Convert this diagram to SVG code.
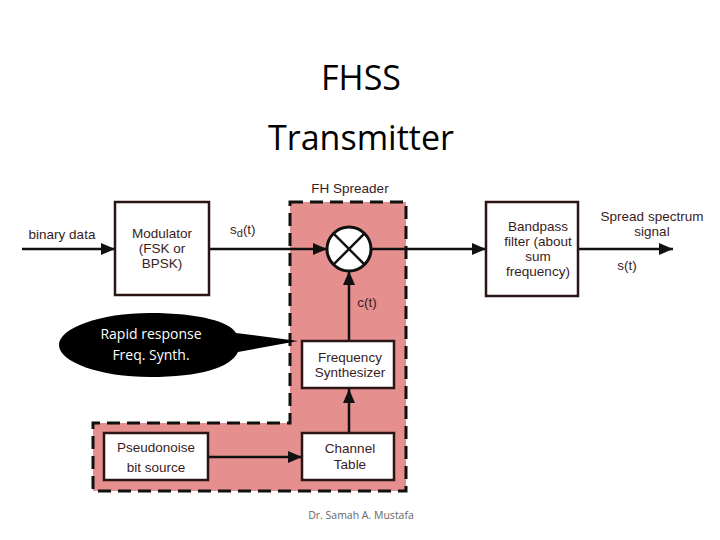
<svg xmlns="http://www.w3.org/2000/svg" width="720" height="540" viewBox="0 0 720 540">
<style>
.box{fill:#fff;stroke:#2a1414;stroke-width:2.5}
.t{font-family:"Liberation Sans",Arial,sans-serif;font-size:13.5px;fill:#3a1c1c;text-anchor:middle}
.ln{stroke:#111;stroke-width:2.5;fill:none}
.title{font-family:"Open Sans","Liberation Sans",sans-serif;font-size:34px;fill:#000;text-anchor:middle}
</style>
<defs>
<marker id="ah" markerWidth="14" markerHeight="12" refX="14" refY="6" orient="auto" markerUnits="userSpaceOnUse">
<path d="M0,0 L14,6 L0,12 Z" fill="#111"/>
</marker>
</defs>
<rect width="720" height="540" fill="#fff"/>
<text class="title" x="361" y="90">FHSS</text>
<text class="title" x="361" y="150">Transmitter</text>

<g id="fh-spreader">
<path d="M290,202 H406 V491 H93 V423 H290 Z" fill="#e58f8e" stroke="#111" stroke-width="3" stroke-dasharray="13,7"/>
<text class="t" x="350" y="193">FH Spreader</text>
</g>

<g id="connectors">
<line class="ln" x1="22" y1="249" x2="115" y2="249" marker-end="url(#ah)"/>
<line class="ln" x1="209" y1="249" x2="327" y2="249" marker-end="url(#ah)"/>
<line class="ln" x1="372" y1="249" x2="486" y2="249" marker-end="url(#ah)"/>
<line class="ln" x1="578" y1="249" x2="673" y2="249" marker-end="url(#ah)"/>
<line class="ln" x1="349" y1="341" x2="349" y2="271" marker-end="url(#ah)"/>
<line class="ln" x1="349" y1="433" x2="349" y2="389" marker-end="url(#ah)"/>
<line class="ln" x1="208" y1="457" x2="302" y2="457" marker-end="url(#ah)"/>
<text class="t" x="62" y="239">binary data</text>
<text class="t" x="230" y="234" style="text-anchor:start">s<tspan font-size="11" dy="3">d</tspan><tspan dy="-3">(t)</tspan></text>
<text class="t" x="652" y="221">Spread spectrum</text>
<text class="t" x="652" y="236">signal</text>
<text class="t" x="627" y="270">s(t)</text>
<text class="t" x="367" y="307">c(t)</text>
</g>

<g id="modulator">
<rect class="box" x="115" y="202" width="94" height="93"/>
<text class="t" x="162" y="238">Modulator</text>
<text class="t" x="162" y="253">(FSK or</text>
<text class="t" x="162" y="268">BPSK)</text>
</g>

<g id="mixer">
<circle cx="349" cy="249" r="22" fill="#fff" stroke="#111" stroke-width="3"/>
<line class="ln" x1="333.4" y1="233.4" x2="364.6" y2="264.6" stroke-width="3"/>
<line class="ln" x1="364.6" y1="233.4" x2="333.4" y2="264.6" stroke-width="3"/>
</g>

<g id="bandpass">
<rect class="box" x="486" y="202" width="92" height="94"/>
<text class="t" x="538" y="231">Bandpass</text>
<text class="t" x="538" y="246">filter (about</text>
<text class="t" x="538" y="261">sum</text>
<text class="t" x="538" y="276">frequency)</text>
</g>

<g id="freq-synth">
<rect class="box" x="302" y="341" width="92" height="47"/>
<text class="t" x="350" y="362">Frequency</text>
<text class="t" x="350" y="377">Synthesizer</text>
</g>

<g id="channel-table">
<rect class="box" x="302" y="433" width="92" height="47"/>
<text class="t" x="350" y="453">Channel</text>
<text class="t" x="350" y="469">Table</text>
</g>

<g id="pn-source">
<rect class="box" x="104" y="433" width="104" height="47"/>
<text class="t" x="156" y="452">Pseudonoise</text>
<text class="t" x="156" y="472">bit source</text>
</g>

<g id="callout">
<path d="M150,313 C200,313 230,322 236,333 L298,341 L238,352 C230,368 200,377 150,377 C100,377 59,362 59,345 C59,328 100,313 150,313 Z" fill="#000"/>
<text x="151" y="339" font-family="'Open Sans','Liberation Sans',sans-serif" font-size="14" fill="#fff" text-anchor="middle">Rapid response</text>
<text x="151" y="360" font-family="'Open Sans','Liberation Sans',sans-serif" font-size="14" fill="#fff" text-anchor="middle">Freq. Synth.</text>
</g>

<text x="361" y="519" font-family="'Open Sans','Liberation Sans',sans-serif" font-size="10.5" fill="#666" text-anchor="middle">Dr. Samah A. Mustafa</text>
</svg>
